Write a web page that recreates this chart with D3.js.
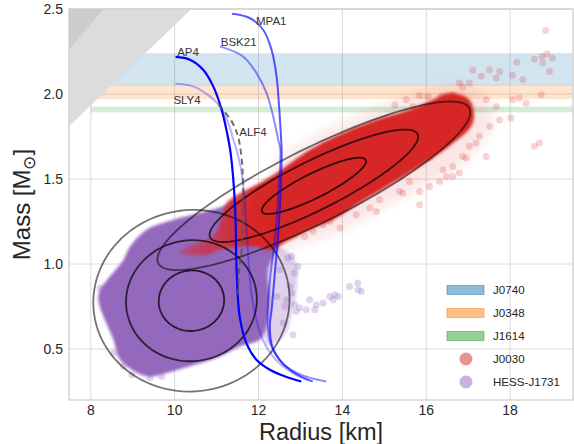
<!DOCTYPE html>
<html>
<head>
<meta charset="utf-8">
<script src="https://cdn.jsdelivr.net/npm/d3@7"></script>
<style>
body { margin: 0; background: #fff; }
text { font-family: "Liberation Sans", Arial, sans-serif; }
</style>
</head>
<body>
<div id="graph1"></div>
<script>

// ---- data ----
const xTicks = [8, 10, 12, 14, 16, 18];
const yTicks = [0.5, 1.0, 1.5, 2.0, 2.5];

const bandNames = ["J0740", "J0348", "J1614"];
const bandLow = [2.05, 1.97, 1.892];
const bandHigh = [2.24, 2.055, 1.926];
const bandColors = ["#1f77b4", "#ff7f0e", "#2ca02c"];
const bandR = [8, 20];

// excluded regions (upper left)
const causalEdge = [[7.48, 1.81], [10.40, 2.5], [7.48, 2.5]];
const buchdahlEdge = [[7.48, 2.26], [8.30, 2.5], [7.48, 2.5]];

// EOS curves [R km, M]
const mpa1 = [[11.37, 2.472], [11.79, 2.447], [12.11, 2.378], [12.31, 2.261], [12.43, 2.104], [12.49, 1.927],
    [12.53, 1.771], [12.55, 1.672], [12.53, 1.437], [12.46, 1.143], [12.39, 0.949], [12.32, 0.749],
    [12.27, 0.631], [12.33, 0.514], [12.56, 0.42], [12.92, 0.35], [13.29, 0.309]];
const bsk21 = [[11.08, 2.28], [11.63, 2.221], [11.95, 2.124], [12.19, 2.006], [12.35, 1.868], [12.47, 1.731],
    [12.52, 1.672], [12.48, 1.437], [12.39, 1.143], [12.29, 0.949], [12.22, 0.749], [12.22, 0.631],
    [12.31, 0.514], [12.58, 0.415], [13.05, 0.345], [13.62, 0.309]];
const ap4 = [[10.02, 2.218], [10.36, 2.202], [10.68, 2.143], [10.92, 2.045], [11.12, 1.908], [11.25, 1.771],
    [11.34, 1.643], [11.44, 1.339], [11.48, 0.947], [11.55, 0.692], [11.71, 0.535], [11.95, 0.437],
    [12.27, 0.378], [12.67, 0.335], [13.02, 0.309]];
const sly4 = [[10.02, 2.06], [10.44, 2.045], [10.84, 1.986], [11.08, 1.927], [11.28, 1.829], [11.40, 1.731],
    [11.50, 1.65], [11.62, 1.5], [11.70, 1.261], [11.76, 1.025], [11.82, 0.849], [11.92, 0.702],
    [12.10, 0.555], [12.40, 0.44], [12.80, 0.36], [13.20, 0.315]];
const alf4 = [[11.05, 1.937], [11.36, 1.839], [11.51, 1.751], [11.60, 1.614], [11.63, 1.476], [11.63, 1.28],
    [11.60, 1.084], [11.53, 0.947], [11.51, 0.82]];
const eosNames = ["MPA1", "BSK21", "AP4", "SLY4", "ALF4"];
const eosLabelAt = [[11.94, 2.427], [11.10, 2.304], [10.06, 2.245], [9.97, 1.966], [11.54, 1.776]];

// posterior contours: centre, 1-sigma axes (R, M), levels
const j0030Centre = [13.32, 1.46];
const j0030Major = [1.237, 0.152];
const j0030Minor = [0.131, -0.065];
const hessCentre = [10.40, 0.784];
const hessMajor = [0.78, 0.006];
const hessMinor = [-0.01, 0.178];
const levels = [1, 2, 3];

// dense sample clouds (outline) and sparse samples
const j0030Cloud = [[11.24, 1.359], [12.03, 1.476], [12.43, 1.535], [13.22, 1.672], [14.01, 1.771], [14.81, 1.849],
    [15.60, 1.908], [16.16, 1.966], [16.55, 2.006], [17.03, 1.966], [17.11, 1.829], [16.55, 1.692],
    [15.84, 1.574], [15.20, 1.476], [14.41, 1.359], [13.78, 1.261], [13.22, 1.202], [12.67, 1.133],
    [12.27, 1.084], [11.87, 1.104], [11.08, 1.084], [10.76, 1.055], [10.13, 1.065], [10.36, 1.104],
    [10.92, 1.162], [11.08, 1.241]];
const j0030Haze = [[12.4, 1.58], [13.3, 1.74], [14.2, 1.85], [15.2, 1.95], [16.2, 2.03], [17.2, 2.02],
    [17.6, 1.86], [17.0, 1.62], [16.0, 1.47], [15.0, 1.34], [14.0, 1.2], [13.0, 1.12], [12.3, 1.1]];
const j0030Pts = [[18.85, 2.374], [18.88, 2.237], [18.76, 2.221], [19.01, 2.212], [18.58, 2.206], [18.78, 2.182],
    [18.16, 2.188], [18.94, 2.133], [18.30, 2.084], [18.06, 2.109], [17.75, 2.133], [17.51, 2.143],
    [17.31, 2.104], [17.67, 2.094], [17.11, 2.139], [18.22, 1.976], [18.06, 1.966], [18.74, 1.996],
    [18.38, 1.947], [18.02, 1.859], [17.67, 1.927], [17.43, 1.966], [17.75, 1.847], [17.51, 1.809],
    [17.27, 1.751], [17.03, 1.692], [17.19, 1.712], [16.87, 1.633], [18.70, 1.712], [18.58, 1.692],
    [17.43, 1.633], [16.63, 1.574], [16.79, 1.535], [16.48, 1.515], [16.32, 1.486], [16.08, 1.456],
    [15.84, 1.427], [15.44, 1.418], [16.87, 2.041], [16.79, 2.065], [17.03, 2.065], [16.04, 1.986],
    [16.36, 1.986], [16.63, 1.996], [15.36, 1.427], [15.60, 1.486], [15.84, 1.349], [14.89, 1.378],
    [14.65, 1.329], [14.81, 1.309], [14.33, 1.290], [13.94, 1.212], [13.70, 1.251], [13.54, 1.231],
    [13.30, 1.192], [13.10, 1.162], [16.63, 1.515], [16.95, 1.624], [16.40, 1.555], [16.08, 1.624],
    [15.52, 1.966], [15.84, 1.99], [15.68, 1.927], [15.25, 1.937]];
const hessCloud = [[8.18, 0.79], [8.22, 0.849], [8.46, 0.927], [8.78, 1.025], [8.94, 1.104], [9.33, 1.202],
    [9.97, 1.261], [10.60, 1.30], [11.16, 1.339], [11.48, 1.378], [12.03, 1.349], [12.51, 1.143],
    [12.22, 0.966], [12.27, 0.79], [12.17, 0.613], [12.03, 0.555], [11.55, 0.515], [11.08, 0.456],
    [10.36, 0.398], [9.81, 0.359], [9.33, 0.339], [8.70, 0.437], [8.54, 0.555], [8.30, 0.692]];
const hessHaze = [[12.08, 1.113], [12.63, 1.084], [12.89, 1.014], [12.91, 0.849], [12.79, 0.702],
    [12.63, 0.584], [12.22, 0.525], [12.08, 0.79]];
const hessPts = [[13.70, 0.809], [13.82, 0.819], [13.90, 0.809], [13.78, 0.79], [13.54, 0.771], [13.38, 0.761],
    [13.34, 0.731], [13.14, 0.731], [13.22, 0.79], [12.98, 0.741], [12.86, 0.761], [12.90, 0.721],
    [12.82, 0.584], [14.17, 0.868], [14.37, 0.888], [14.45, 0.839], [14.37, 0.849], [12.70, 1.035],
    [12.79, 1.045], [12.94, 0.986], [12.86, 0.947], [12.75, 0.868], [12.79, 0.829], [12.67, 0.79],
    [12.59, 0.653], [12.63, 0.751], [12.51, 0.966], [12.43, 0.809], [8.98, 0.349], [8.22, 0.859],
    [8.50, 0.908], [8.34, 0.731], [8.54, 0.476], [8.78, 0.398], [9.41, 0.329], [9.69, 0.339]];

// ---- layout ----
let width = 574,
    height = 444;
let margin = { top: 9, right: 1, bottom: 44, left: 69 };
let plotW = width - margin.left - margin.right,
    plotH = height - margin.top - margin.bottom;

let root = d3.select("#graph1")
    .append("svg")
    .attr("width", width)
    .attr("height", height);

let defs = root.append("defs");
defs.append("clipPath").attr("id", "plotArea")
    .append("rect").attr("width", plotW).attr("height", plotH);
defs.append("filter").attr("id", "soft")
    .append("feGaussianBlur").attr("stdDeviation", 1.6);
defs.append("filter").attr("id", "haze")
    .append("feGaussianBlur").attr("stdDeviation", 5);

let svg = root.append("g")
    .attr("transform", `translate(${margin.left}, ${margin.top})`);

let x = d3.scaleLinear().domain([7.48, 19.5]).range([0, plotW]);
let y = d3.scaleLinear().domain([0.2, 2.5]).range([plotH, 0]);

let grad = defs.append("linearGradient").attr("id", "redTail")
    .attr("gradientUnits", "userSpaceOnUse")
    .attr("x1", x(10.1)).attr("x2", x(11.9)).attr("y1", 0).attr("y2", 0);
grad.append("stop").attr("offset", 0).attr("stop-color", "#d62728").attr("stop-opacity", 0.45);
grad.append("stop").attr("offset", 1).attr("stop-color", "#d62728").attr("stop-opacity", 1);

// grid (seaborn whitegrid)
svg.append("g").selectAll("line").data(xTicks).enter().append("line")
    .attr("x1", d => x(d)).attr("x2", d => x(d))
    .attr("y1", 0).attr("y2", plotH)
    .attr("stroke", "#dadada").attr("stroke-width", 1);
svg.append("g").selectAll("line").data(yTicks).enter().append("line")
    .attr("x1", 0).attr("x2", plotW)
    .attr("y1", d => y(d)).attr("y2", d => y(d))
    .attr("stroke", "#dadada").attr("stroke-width", 1);

let plot = svg.append("g").attr("clip-path", "url(#plotArea)");

// measured mass bands
plot.selectAll("rect.band").data(bandNames).enter().append("rect")
    .attr("class", "band")
    .attr("x", x(bandR[0]))
    .attr("width", x(bandR[1]) - x(bandR[0]))
    .attr("y", (d, i) => y(bandHigh[i]))
    .attr("height", (d, i) => y(bandLow[i]) - y(bandHigh[i]))
    .attr("fill", (d, i) => bandColors[i])
    .attr("fill-opacity", 0.2);

let area = d3.line().x(d => x(d[0])).y(d => y(d[1]));
let smooth = d3.line().x(d => x(d[0])).y(d => y(d[1])).curve(d3.curveCatmullRomClosed.alpha(0.5));

// HESS J1731 samples
plot.append("path").datum(hessHaze)
    .attr("d", smooth).attr("fill", "#9467bd").attr("fill-opacity", 0.3)
    .attr("filter", "url(#soft)");
plot.append("path").datum(hessCloud)
    .attr("d", smooth).attr("fill", "#9467bd")
    .attr("filter", "url(#soft)");
plot.append("g").selectAll("circle").data(hessPts).enter().append("circle")
    .attr("cx", d => x(d[0])).attr("cy", d => y(d[1])).attr("r", 3.5)
    .attr("fill", "#9467bd").attr("fill-opacity", 0.28);

// J0030 samples
plot.append("path").datum(j0030Haze)
    .attr("d", smooth).attr("fill", "#d62728").attr("fill-opacity", 0.12)
    .attr("filter", "url(#haze)");
plot.append("path").datum(j0030Cloud)
    .attr("d", smooth).attr("fill", "url(#redTail)")
    .attr("filter", "url(#soft)");
plot.append("g").selectAll("circle").data(j0030Pts).enter().append("circle")
    .attr("cx", d => x(d[0])).attr("cy", d => y(d[1])).attr("r", 3.5)
    .attr("fill", "#d62728").attr("fill-opacity", 0.2);

// contours
function ring(c, a, b, k) {
    return d3.range(0, 121).map(function (i) {
        let t = i / 120 * 2 * Math.PI;
        return [c[0] + k * (a[0] * Math.cos(t) + b[0] * Math.sin(t)),
                c[1] + k * (a[1] * Math.cos(t) + b[1] * Math.sin(t))];
    });
}
let levelOpacity = [0.75, 0.7, 0.55];
[[j0030Centre, j0030Major, j0030Minor], [hessCentre, hessMajor, hessMinor]].forEach(function (s) {
    plot.append("g").selectAll("path").data(levels).enter().append("path")
        .attr("d", k => area(ring(s[0], s[1], s[2], k)))
        .attr("fill", "none")
        .attr("stroke", "#000")
        .attr("stroke-opacity", (k, i) => levelOpacity[i])
        .attr("stroke-width", 1.8);
});

// EOS curves
let curve = d3.line().x(d => x(d[0])).y(d => y(d[1])).curve(d3.curveCatmullRom.alpha(0.5));
let eosData = [mpa1, bsk21, ap4, sly4, alf4];
let eosColor = ["#0000ff", "#0000ff", "#0000ff", "#0000ff", "#555555"];
let eosAlpha = [0.65, 0.45, 1, 0.3, 0.85];
plot.append("g").selectAll("path").data(eosData).enter().append("path")
    .attr("d", curve)
    .attr("fill", "none")
    .attr("stroke", (d, i) => eosColor[i])
    .attr("stroke-opacity", (d, i) => eosAlpha[i])
    .attr("stroke-width", (d, i) => i == 2 ? 2.2 : 2)
    .attr("stroke-dasharray", (d, i) => i == 4 ? "6,4" : null);

plot.append("g").selectAll("text").data(eosNames).enter().append("text")
    .attr("x", (d, i) => x(eosLabelAt[i][0]))
    .attr("y", (d, i) => y(eosLabelAt[i][1]))
    .attr("dy", "0.35em")
    .style("font-size", "11.5px")
    .attr("fill", "#333")
    .text(d => d);

// excluded regions on top
plot.append("path").datum(causalEdge).attr("d", area).attr("fill", "#dcdcdc");
plot.append("path").datum(buchdahlEdge).attr("d", area).attr("fill", "#cdcdcd");

// spines
svg.append("rect")
    .attr("width", plotW).attr("height", plotH)
    .attr("fill", "none").attr("stroke", "#cccccc").attr("stroke-width", 1.25);

// tick labels
svg.append("g").selectAll("text").data(xTicks).enter().append("text")
    .attr("x", d => x(d)).attr("y", plotH + 15)
    .style("text-anchor", "middle").style("font-size", "14px")
    .attr("fill", "#262626")
    .text(d => d);
svg.append("g").selectAll("text").data(yTicks).enter().append("text")
    .attr("x", -6).attr("y", d => y(d)).attr("dy", "0.35em")
    .style("text-anchor", "end").style("font-size", "14px")
    .attr("fill", "#262626")
    .text(d3.format(".1f"));

// axis labels
svg.append("text")
    .attr("transform", `translate(${plotW / 2}, ${plotH + 40})`)
    .style("text-anchor", "middle").style("font-size", "23.5px")
    .attr("fill", "#262626")
    .text("Radius [km]");

let ylab = svg.append("text")
    .attr("transform", `translate(${-margin.left + 30}, ${plotH / 2}) rotate(-90)`)
    .style("text-anchor", "middle").style("font-size", "24px")
    .attr("fill", "#262626");
ylab.append("tspan").text("Mass [M");
ylab.append("tspan").text("\u2299").style("font-size", "17px").attr("dy", 5);
ylab.append("tspan").text("]").attr("dy", -5);

// legend
let legendNames = bandNames.concat(["J0030", "HESS-J1731"]);
let legendColors = bandColors.concat(["#d62728", "#9467bd"]);
let legend = root.append("g").attr("transform", "translate(447, 290)");
let rows = legend.selectAll("g").data(legendNames).enter().append("g")
    .attr("transform", (d, i) => `translate(0, ${i * 23})`);
rows.filter((d, i) => i < 3).append("rect")
    .attr("x", 0).attr("y", -4.5).attr("width", 37).attr("height", 9)
    .attr("fill", (d, i) => legendColors[i]).attr("fill-opacity", 0.5)
    .attr("stroke", (d, i) => legendColors[i]).attr("stroke-opacity", 0.5);
rows.filter((d, i) => i >= 3).append("circle")
    .attr("cx", 19).attr("cy", 0).attr("r", 6.5)
    .attr("fill", (d, i) => legendColors[i + 3]).attr("fill-opacity", 0.5);
rows.append("text")
    .attr("x", 46).attr("dy", "0.35em")
    .style("font-size", "11.6px").attr("fill", "#262626")
    .text(d => d);

</script>
</body>
</html>
